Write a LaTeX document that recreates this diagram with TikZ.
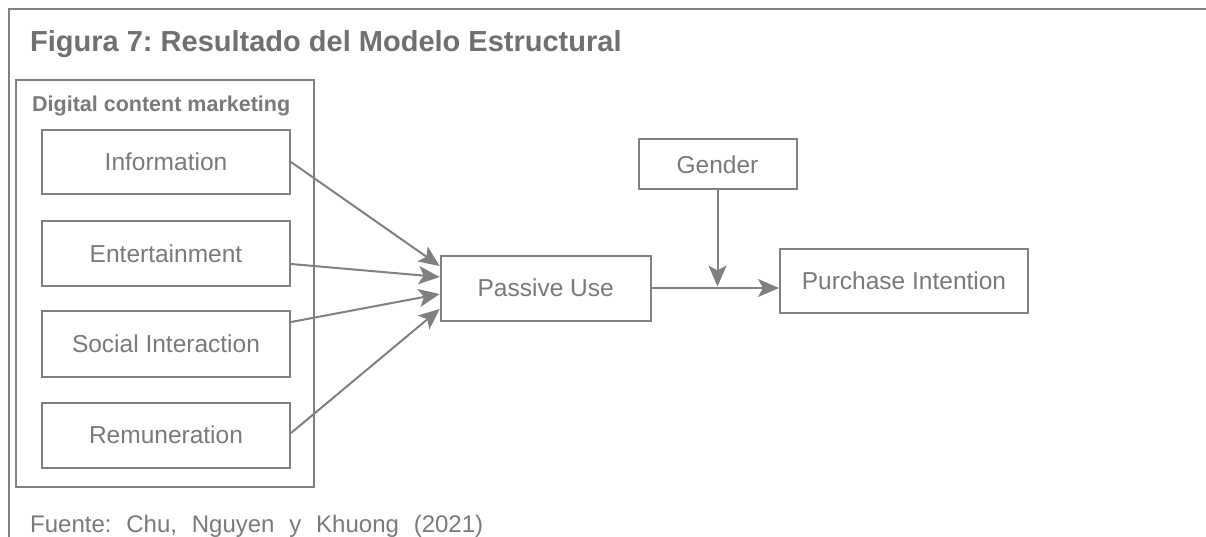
\documentclass[tikz,border=0pt]{standalone}
\usepackage{fontspec}
\setmainfont{Liberation Sans}
\usetikzlibrary{arrows.meta,calc}
\definecolor{linegray}{HTML}{808080}
\definecolor{textgray}{HTML}{7A7A7A}
\definecolor{titlegray}{HTML}{707070}
\begin{document}
\frenchspacing
\begin{tikzpicture}[x=1pt,y=-1pt,
  box/.style={draw=linegray,line width=2pt,inner sep=0pt,text=textgray,
    font=\fontsize{24.5}{28}\selectfont},
  conn/.style={draw=linegray,line width=2pt,
    -{Stealth[length=21pt,width=18pt,inset=5pt]}}]
\useasboundingbox (0,0) rectangle (1206,536);
\fill[white] (0,0) rectangle (1206,536);
% outer frame
\draw[linegray,line width=2.2pt] (9,540) -- (9,9) -- (1210,9);
% title
\node[anchor=base west,inner sep=0pt,text=titlegray,font=\bfseries\fontsize{29}{34}\selectfont] (title) at (30,51) {Figura 7: Resultado del Modelo Estructural};
% group box
\node[draw=linegray,line width=2pt,minimum width=298pt,minimum height=407pt,inner sep=0pt] (dcm) at (165,283.5) {};
\node[anchor=base west,inner sep=0pt,text=textgray,font=\bfseries\fontsize{21.5}{26}\selectfont] (dcml) at (32,111) {Digital content marketing};
% inner boxes
\node[box,minimum width=248pt,minimum height=64pt] (info) at (166,162) {Information};
\node[box,minimum width=248pt,minimum height=65pt] (ent) at (166,253.5) {Entertainment};
\node[box,minimum width=248pt,minimum height=66pt] (soc) at (166,344) {Social Interaction};
\node[box,minimum width=248pt,minimum height=65pt] (rem) at (166,435) {Remuneration};
% right side
\node[box,minimum width=210pt,minimum height=65pt] (pu) at (545.7,288) {Passive Use};
\node[box,minimum width=158pt,minimum height=50pt] (gen) at (717.5,164.3) {Gender};
\node[box,minimum width=248pt,minimum height=64pt] (pi) at (904,280.5) {Purchase Intention};
% connectors
\draw[conn] (info.east) -- ($(pu.west)+(0,-22)$);
\draw[conn] ($(ent.east)+(0,10.5)$) -- ($(pu.west)+(0,-11)$);
\draw[conn] ($(soc.east)+(0,-22)$) -- ($(pu.west)+(0,6)$);
\draw[conn] ($(rem.east)+(0,-2)$) -- ($(pu.west)+(0,21)$);
\draw[conn] (pu.east) -- (pu.east -| pi.west);
\draw[conn] (gen.south) -- ($(gen.south |- pu.east)+(0,-1.5)$);
% source
\node[anchor=base west,inner sep=0pt,text=textgray,font=\fontsize{24}{28}\selectfont] (src) at (30,532) {\makebox[453pt][s]{Fuente: Chu, Nguyen y Khuong (2021)}};
\end{tikzpicture}
\end{document}
